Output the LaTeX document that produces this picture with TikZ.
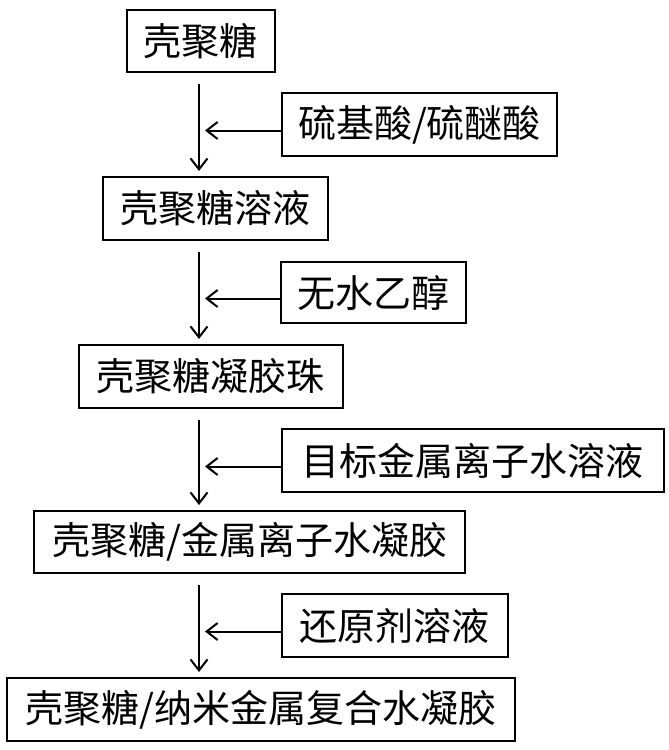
\documentclass[tikz,border=0pt]{standalone}
\usepackage{fontspec}
\newfontfamily\cjk{Noto Sans CJK SC}
\usetikzlibrary{arrows.meta}
\begin{document}
\begin{tikzpicture}[x=1pt,y=-1pt,
  box/.style={draw=black, line width=2pt, fill=white, inner sep=0pt, font=\cjk\fontsize{38}{42}\selectfont, text=black},
  arr/.style={line width=2pt, -{Straight Barb[length=11pt,width=17pt]}}]
\useasboundingbox[fill=white] (0,0) rectangle (669,750);
\coordinate (ax) at (199,0);
\node[box, minimum width=148pt, minimum height=62pt] (B1) at (200.5,41) {壳聚糖};
\node[box, minimum width=225pt, minimum height=63pt] (B2) at (215.5,208.5) {壳聚糖溶液};
\node[box, minimum width=264.5pt, minimum height=63pt] (B3) at (210.8,376.5) {壳聚糖凝胶珠};
\node[box, minimum width=430.7pt, minimum height=62pt] (B4) at (249.7,542) {壳聚糖/金属离子水凝胶};
\node[box, minimum width=507.3pt, minimum height=63pt] (B5) at (261,709.5) {壳聚糖/纳米金属复合水凝胶};
\node[box, minimum width=275.7pt, minimum height=63pt] (S1) at (419.5,124.5) {硫基酸/硫醚酸};
\node[box, minimum width=185.3pt, minimum height=61pt] (S2) at (373.4,292.5) {无水乙醇};
\node[box, minimum width=382pt, minimum height=63pt] (S3) at (472.8,460.5) {目标金属离子水溶液};
\node[box, minimum width=226.3pt, minimum height=63pt] (S4) at (394.9,625.5) {还原剂溶液};
\foreach \a/\b in {B1/B2,B2/B3,B3/B4,B4/B5}{
  \draw[arr, shorten <=11pt, shorten >=5pt] (\a.south -| ax) -- (\b.north -| ax);
}
\foreach \s in {S1,S2,S3,S4}{
  \draw[arr, shorten >=6pt] ([yshift=-6pt]\s.west) -- ([yshift=-6pt]\s.west -| ax);
}
\end{tikzpicture}
\end{document}
